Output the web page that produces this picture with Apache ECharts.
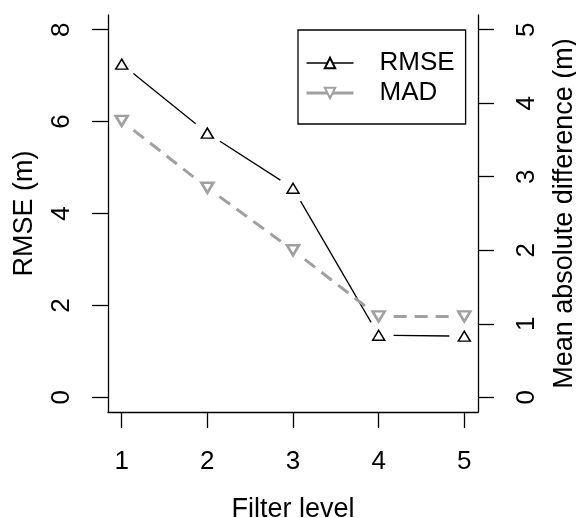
<!DOCTYPE html>
<html>
<head>
<meta charset="utf-8">
<script src="https://cdn.jsdelivr.net/npm/echarts@6/dist/echarts.min.js"></script>
<style>
    html, body { margin: 0; padding: 0; background: #fff; overflow: hidden; }
    #chart { width: 576px; height: 518px; }
</style>
</head>
<body>
<div id="chart"></div>
<script>
// data
const filterLevels = [1, 2, 3, 4, 5];
const rmseValues = [7.25, 5.75, 4.55, 1.35, 1.33];
const madValues = [3.76, 2.85, 2.0, 1.1, 1.1];
const rmseTicks = [0, 2, 4, 6, 8];
const madTicks = [0, 1, 2, 3, 4, 5];

const FONT = "Liberation Sans";
const GRAY = "#a0a0a0";
const GAP = 15; // blank space round each point, like R type="b"

// pairs of neighbouring points, one segment each
const toSegments = (vals) => {
    const segs = [];
    for (let i = 0; i < vals.length - 1; i++) {
        segs.push([filterLevels[i], vals[i], filterLevels[i + 1], vals[i + 1]]);
    }
    return segs;
};

const gappedLine = (stroke, width, dash) => (params, api) => {
    const a = api.coord([api.value(0), api.value(1)]);
    const b = api.coord([api.value(2), api.value(3)]);
    const dx = b[0] - a[0], dy = b[1] - a[1];
    const len = Math.sqrt(dx * dx + dy * dy);
    if (len <= 2 * GAP) return null;
    const ux = dx / len, uy = dy / len;
    return {
        type: "line",
        shape: {
            x1: a[0] + ux * GAP, y1: a[1] + uy * GAP,
            x2: b[0] - ux * GAP, y2: b[1] - uy * GAP,
        },
        style: { stroke: stroke, lineWidth: width, lineDash: dash, fill: null },
    };
};

const chart = echarts.init(document.getElementById("chart"));

const axisCommon = {
    axisLine: { show: true, onZero: false, lineStyle: { color: "#000", width: 1.3 } },
    axisTick: { show: true, length: 16, lineStyle: { color: "#000", width: 1.3 } },
    splitLine: { show: false },
    nameMoveOverlap: false,
    nameTextStyle: { fontFamily: FONT, fontSize: 27, color: "#000" },
};
const labelStyle = { fontFamily: FONT, fontSize: 26, color: "#000" };

chart.setOption({
    animation: false,
    textStyle: { fontFamily: FONT },
    grid: { left: 108, right: 98, top: 15, height: 397, containLabel: false, outerBoundsMode: "none" },
    legend: {
        orient: "vertical",
        left: 298,
        top: 30,
        padding: [20, 11, 18, 7],
        itemGap: 4,
        itemWidth: 47,
        itemHeight: 13,
        borderColor: "#000",
        borderWidth: 1.3,
        borderRadius: 0,
        textStyle: { ...labelStyle, lineHeight: 26, padding: [0, 0, 0, 21] },
        data: [
            { name: "RMSE", lineStyle: { color: "#000", width: 1.3, opacity: 1 } },
            { name: "MAD", lineStyle: { color: GRAY, width: 3, opacity: 1 } },
        ],
    },
    xAxis: {
        ...axisCommon,
        type: "value",
        min: 0.84,
        max: 5.16,
        name: "Filter level",
        nameLocation: "middle",
        nameGap: 84,
        axisTick: { ...axisCommon.axisTick, customValues: filterLevels },
        axisLabel: { ...labelStyle, customValues: filterLevels, margin: 37 },
    },
    yAxis: [
        {
            ...axisCommon,
            type: "value",
            position: "left",
            min: -0.32,
            max: 8.32,
            name: "RMSE (m)",
            nameLocation: "middle",
            nameRotate: 90,
            nameGap: 70,
            axisTick: { ...axisCommon.axisTick, customValues: rmseTicks },
            axisLabel: { ...labelStyle, customValues: rmseTicks, rotate: 90, margin: 33 },
        },
        {
            ...axisCommon,
            type: "value",
            position: "right",
            min: -0.2,
            max: 5.2,
            name: "Mean absolute difference (m)",
            nameLocation: "middle",
            nameRotate: 90,
            nameGap: 73,
            axisTick: { ...axisCommon.axisTick, customValues: madTicks },
            axisLabel: { ...labelStyle, customValues: madTicks, rotate: 90, margin: 36 },
        },
    ],
    series: [
        {
            type: "custom",
            name: "rmseLine",
            yAxisIndex: 0,
            renderItem: gappedLine("#000", 1.3, null),
            data: toSegments(rmseValues),
            silent: true,
        },
        {
            type: "custom",
            name: "madLine",
            yAxisIndex: 1,
            renderItem: gappedLine(GRAY, 3, [13, 8]),
            data: toSegments(madValues),
            silent: true,
        },
        {
            type: "line",
            name: "RMSE",
            yAxisIndex: 0,
            data: filterLevels.map((x, i) => [x, rmseValues[i]]),
            lineStyle: { width: 0, opacity: 0 },
            symbol: "triangle",
            symbolSize: [12, 10],
            itemStyle: { color: "#fff", borderColor: "#000", borderWidth: 1.5 },
            z: 5,
        },
        {
            type: "line",
            name: "MAD",
            yAxisIndex: 1,
            data: filterLevels.map((x, i) => [x, madValues[i]]),
            lineStyle: { width: 0, opacity: 0 },
            symbol: "triangle",
            symbolRotate: 180,
            symbolSize: [12, 10],
            itemStyle: { color: "#fff", borderColor: GRAY, borderWidth: 2.6 },
            z: 5,
        },
    ],
});
</script>
</body>
</html>
